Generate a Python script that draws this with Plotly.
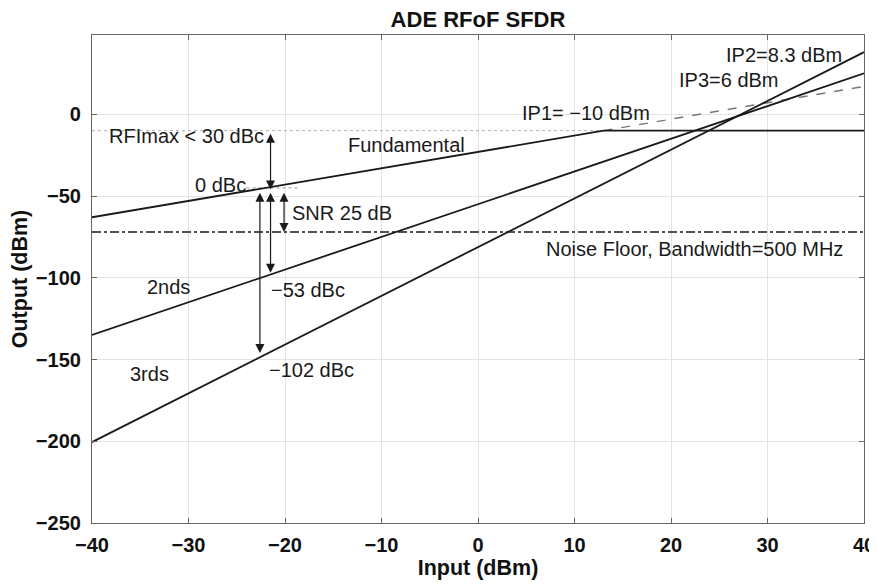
import plotly.graph_objects as go

# ---- data (dBm) ----
fund_x = [-40, 13, 40]
fund_y = [-63, -10, -10]
fund_ext_x = [13, 40]
fund_ext_y = [-10, 17]
ip1_ref_x = [-40, 13]
ip1_ref_y = [-10, -10]
dbc_ref_x = [-24, -18.6]
dbc_ref_y = [-45, -45]
second_x = [-40, 40]
second_y = [-135, 25]
third_x = [-40, 40]
third_y = [-200.5, 38]
noise_floor = -72
x_range = [-40, 40]

# arrows: x, start, end
arrow_x = [-21.5, -22.6, -21.5, -20.1]
arrow_y0 = [-11, -47, -47, -47]
arrow_y1 = [-46, -146, -97, -72]

# text labels
label_text = ["RFImax < 30 dBc", "0 dBc", "Fundamental", "SNR 25 dB", "2nds", "−53 dBc",
              "3rds", "−102 dBc", "IP1= −10 dBm", "IP3=6 dBm", "IP2=8.3 dBm",
              "Noise Floor, Bandwidth=500 MHz"]
label_x = [-38.4, -29.5, -7.4, -19.5, -32.1, -21.7, -34.0, -21.9, 11.2, 26.0, 31.7, 22.4]
label_y = [-13, -43, -19, -60.4, -105.7, -107.6, -158.6, -156.6, 0.6, 21, 36.3, -82.6]
label_anchor = ["left", "left", "center", "left", "center", "left",
                "center", "left", "center", "center", "center", "center"]

FONT = "Arial, Liberation Sans, Helvetica, sans-serif"
LINE = "#1a1a1a"

fig = go.Figure()
fig.add_trace(go.Scatter(x=ip1_ref_x, y=ip1_ref_y, mode="lines",
                         line=dict(color="#b0b0b0", width=1, dash="dot")))
fig.add_trace(go.Scatter(x=dbc_ref_x, y=dbc_ref_y, mode="lines",
                         line=dict(color="#b0b0b0", width=1.2, dash="dot")))
fig.add_trace(go.Scatter(x=fund_ext_x, y=fund_ext_y, mode="lines",
                         line=dict(color="#777777", width=1.5, dash="dash")))
fig.add_trace(go.Scatter(x=x_range, y=[noise_floor, noise_floor], mode="lines",
                         line=dict(color=LINE, width=1.5, dash="dashdot")))
fig.add_trace(go.Scatter(x=fund_x, y=fund_y, mode="lines",
                         line=dict(color=LINE, width=1.8)))
fig.add_trace(go.Scatter(x=second_x, y=second_y, mode="lines",
                         line=dict(color=LINE, width=1.8)))
fig.add_trace(go.Scatter(x=third_x, y=third_y, mode="lines",
                         line=dict(color=LINE, width=1.8)))

for ax_, y0, y1 in zip(arrow_x, arrow_y0, arrow_y1):
    fig.add_annotation(x=ax_, y=y1, ax=ax_, ay=y0, xref="x", yref="y", axref="x", ayref="y",
                       showarrow=True, arrowhead=2, startarrowhead=2, arrowside="end+start",
                       arrowsize=1.5, startarrowsize=1.5, arrowwidth=1.2, arrowcolor=LINE,
                       text="", standoff=0, startstandoff=0)

for t, x, y, a in zip(label_text, label_x, label_y, label_anchor):
    fig.add_annotation(x=x, y=y, xref="x", yref="y", text=t, showarrow=False,
                       xanchor=a, yanchor="middle",
                       font=dict(family=FONT, size=20, color="#1a1a1a"))

axis_common = dict(showgrid=True, gridcolor="#e3e3e3", gridwidth=1,
                   showline=True, linecolor="#666666", linewidth=1.2, mirror="ticks",
                   ticks="inside", ticklen=5, tickcolor="#666666", zeroline=False,
                   automargin=False,
                   tickfont=dict(family=FONT, size=20, color="#111111", weight="bold"))

fig.update_xaxes(range=x_range, dtick=10, ticklabelstandoff=4,
                 title=dict(text="Input (dBm)", standoff=2,
                            font=dict(family=FONT, size=21.5, color="#111111", weight="bold")),
                 **axis_common)
fig.update_yaxes(range=[-250, 48.5], dtick=50, ticklabelstandoff=6,
                 title=dict(text="Output (dBm)", standoff=6,
                            font=dict(family=FONT, size=21.5, color="#111111", weight="bold")),
                 **axis_common)

fig.update_layout(
    width=869, height=580,
    margin=dict(l=84, r=13, t=27, b=65),
    paper_bgcolor="white", plot_bgcolor="white",
    showlegend=False,
    title=dict(text="ADE RFoF SFDR", x=(478 - 8) / 869, xanchor="center", y=1 - 11 / 580,
               yanchor="middle",
               font=dict(family=FONT, size=22, color="#111111", weight="bold")),
)

fig.write_html("out.html")
